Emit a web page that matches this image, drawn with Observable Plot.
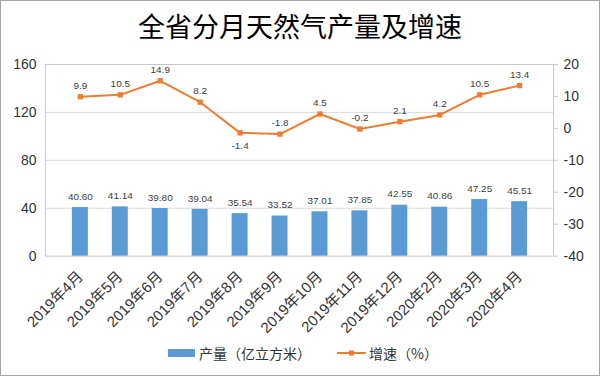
<!DOCTYPE html>
<html><head><meta charset="utf-8">
<script src="https://cdn.jsdelivr.net/npm/d3@7"></script>
<script src="https://cdn.jsdelivr.net/npm/@observablehq/plot@0.6"></script>
<style>
body{margin:0;background:#fff;}
#wrap{position:relative;width:600px;height:376px;box-sizing:border-box;border:1px solid #a6a6a6;background:#fff;overflow:hidden;font-family:"Liberation Sans","Noto Sans CJK SC",sans-serif;}
#title{position:absolute;left:-1px;top:0;width:600px;height:50px;text-align:center;font-family:"Noto Sans CJK SC",sans-serif;font-size:27px;line-height:50px;color:#000;}
#chart{position:absolute;left:-1px;top:49px;}
.lg{position:absolute;font-family:"Noto Sans CJK SC",sans-serif;font-size:14px;color:#333;line-height:16px;}
</style></head>
<body>
<div id="wrap">
  <div id="title">全省分月天然气产量及增速</div>
  <div id="chart"></div>
  <div class="lg" style="left:167px;top:348px;width:27px;height:8px;background:#5b9bd5;"></div>
  <div class="lg" style="left:198px;top:344px;">产量（亿立方米）</div>
  <svg class="lg" style="left:336px;top:345px;" width="30" height="14"><line x1="0" y1="7" x2="29" y2="7" stroke="#ed7d31" stroke-width="2"/><rect x="12" y="4.5" width="5" height="5" fill="#ed7d31"/></svg>
  <div class="lg" style="left:368px;top:344px;">增速（%）</div>
</div>
<script>
const months = ["2019年4月","2019年5月","2019年6月","2019年7月","2019年8月","2019年9月","2019年10月","2019年11月","2019年12月","2020年2月","2020年3月","2020年4月"];
const output = [40.60,41.14,39.80,39.04,35.54,33.52,37.01,37.85,42.55,40.86,47.25,45.51];
const growth = [9.9,10.5,14.9,8.2,-1.4,-1.8,4.5,-0.2,2.1,4.2,10.5,13.4];
const leftTicks = [0,40,80,120,160];
const rightTicks = [-40,-30,-20,-10,0,10,20];
const labelsBelow = ["2019年8月"];

const L0 = 0, L1 = 160, R0 = -40, R1 = 20;
const toLeft = g => (g - R0) * (L1 - L0) / (R1 - R0) + L0;
const toRight = v => (v - L0) * (R1 - R0) / (L1 - L0) + R0;

const data = months.map((m, i) => ({m, v: output[i], g: growth[i], gy: toLeft(growth[i])}));

const chart = Plot.plot({
  width: 600, height: 290,
  marginLeft: 45, marginRight: 46, marginTop: 14, marginBottom: 84,
  style: {fontFamily: '"Liberation Sans","Noto Sans CJK SC",sans-serif', fontSize: "13px", color: "#333", background: "transparent"},
  x: {domain: months, padding: 0.6, label: null},
  y: {domain: [L0, L1], label: null},
  marks: [
    Plot.ruleY(leftTicks.slice(1, -1), {stroke: "#d9d9d9", strokeWidth: 1}),
    Plot.frame({stroke: "#c6c6c6"}),
    Plot.barY(data, {x: "m", y: "v", fill: "#5b9bd5"}),
    Plot.lineY(data, {x: "m", y: "gy", stroke: "#ed7d31", strokeWidth: 2}),
    Plot.dot(data, {x: "m", y: "gy", symbol: "square", fill: "#ed7d31", r: 3}),
    Plot.text(data, {x: "m", y: "v", text: d => d.v.toFixed(2), dy: -11, fontSize: 10, fill: "#404040"}),
    Plot.text(data.filter(d => !labelsBelow.includes(d.m)), {x: "m", y: "gy", text: d => String(d.g), dy: -11, fontSize: 10, fill: "#404040"}),
    Plot.text(data.filter(d => labelsBelow.includes(d.m)), {x: "m", y: "gy", text: d => String(d.g), dy: 13, fontSize: 10, fill: "#404040"}),
    Plot.axisY(leftTicks, {anchor: "left", tickSize: 0, tickPadding: 9, fontSize: 14, label: null}),
    Plot.axisY(rightTicks.map(toLeft), {anchor: "right", tickSize: 4, tickPadding: 6, stroke: "#c6c6c6", fontSize: 14, tickFormat: d => String(Math.round(toRight(d))), label: null}),
    Plot.axisX({tickRotate: -45, tickSize: 0, tickPadding: 18, fontSize: 15, label: null})
  ]
});
document.getElementById("chart").appendChild(chart);
</script>
</body></html>
